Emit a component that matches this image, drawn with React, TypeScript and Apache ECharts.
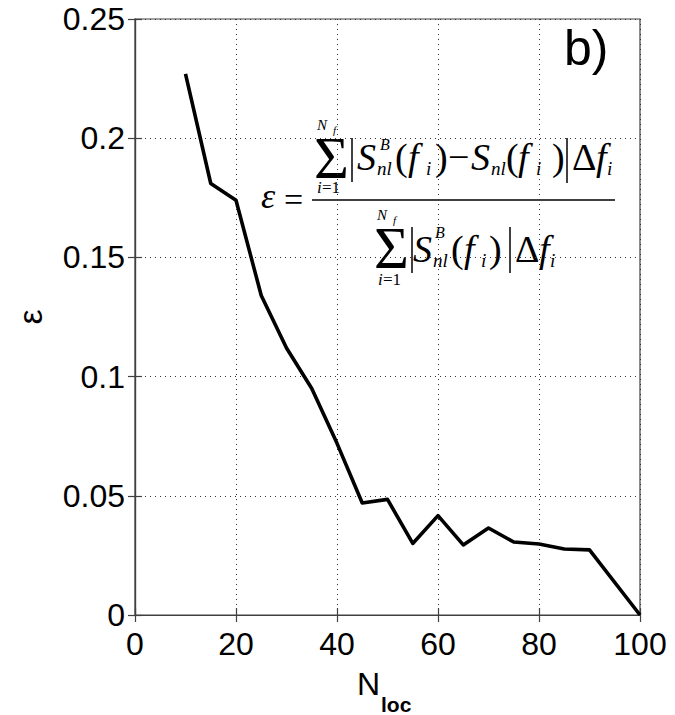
import React, { useEffect, useRef } from "react";
import * as echarts from "echarts";

// ---- data ----
const nLoc = [10, 15, 20, 25, 30, 35, 40, 45, 50, 55, 60, 65, 70, 75, 80, 85, 90, 100];
const epsValues = [
  0.227, 0.181, 0.174, 0.134, 0.112, 0.095, 0.072, 0.047, 0.0485, 0.030, 0.0417,
  0.0294, 0.0365, 0.0306, 0.0298, 0.0277, 0.0273, 0.0,
];
const xTickLabels = ["0", "20", "40", "60", "80", "100"];
const yTickLabels = ["0", "0.05", "0.1", "0.15", "0.2", "0.25"];

const SERIF = '"Liberation Serif", "Times New Roman", serif';
const SANS = '"Liberation Sans", Arial, Helvetica, sans-serif';

function txt(
  text: string,
  x: number,
  baseline: number,
  size: number,
  italic: boolean,
  lh?: number,
  family = SERIF,
  weight = "normal"
) {
  const off = family === SERIF ? 0.3375 : 0.3465;
  const style: any = {
    text,
    fill: "#000",
    font: `${italic ? "italic " : ""}${weight} ${size}px ${family}`,
    align: "left",
    verticalAlign: "middle",
    textAlign: "left",
    textVerticalAlign: "middle",
  };
  if (lh) style.lineHeight = lh;
  return { type: "text", x, y: baseline - off * size, silent: true, style };
}

function vbar(x: number, y1: number, y2: number, w = 1.5) {
  return { type: "line", silent: true, shape: { x1: x, y1, x2: x, y2 }, style: { stroke: "#000", lineWidth: w } };
}

function formulaGraphics() {
  const M = 38; // main size
  const ML = 26; // main line-height (tight box)
  const S = 19; // subscript size
  const SL = 11;
  const g: any[] = [];
  // epsilon =
  g.push(txt("ε", 261, 208, 36, true, 20));
  g.push(txt("=", 284, 211, 34, false, 14));
  // fraction bar
  g.push({ type: "line", silent: true, shape: { x1: 312, y1: 200, x2: 615, y2: 200 }, style: { stroke: "#000", lineWidth: 1.6 } });

  // ---- numerator (baseline 170) ----
  const nb = 170;
  g.push(txt("N", 317, 130, 15, true, 12));
  g.push(txt("f", 333, 134, 11, true, 9));
  g.push(txt("Σ", 314, 178, 60, false, 40));
  g.push(txt("i", 317, 193, 17, true, 12));
  g.push(txt("=1", 322, 193, 17, false, 12));
  g.push(vbar(352, 138, 182));
  g.push(txt("S", 357, nb, M, true, ML));
  g.push(txt("B", 380, 150, 16, true, SL));
  g.push(txt("nl", 377, nb + 5, S, true, SL));
  g.push(txt("(", 395, nb, M, false, ML));
  g.push(txt("f", 408, nb, M, true, ML));
  g.push(txt("i", 426, nb + 5, S, true, SL));
  g.push(txt(")", 435, nb, M, false, ML));
  g.push(txt("−", 448, nb, M, false, ML));
  g.push(txt("S", 471, nb, M, true, ML));
  g.push(txt("nl", 491, nb + 5, S, true, SL));
  g.push(txt("(", 506, nb, M, false, ML));
  g.push(txt("f", 518, nb, M, true, ML));
  g.push(txt("i", 536, nb + 5, S, true, SL));
  g.push(txt(")", 552, nb, M, false, ML));
  g.push(vbar(567, 138, 183));
  g.push(txt("Δ", 572, nb, M, false, ML));
  g.push(txt("f", 596, nb, M, true, ML));
  g.push(txt("i", 607, nb + 5, S, true, SL));

  // ---- denominator (baseline 262) ----
  const db = 262;
  g.push(txt("N", 377, 220, 15, true, 12));
  g.push(txt("f", 393, 224, 11, true, 9));
  g.push(txt("Σ", 374, 268, 60, false, 40));
  g.push(txt("i", 378, 285, 17, true, 12));
  g.push(txt("=1", 383, 285, 17, false, 12));
  g.push(vbar(412, 227, 273));
  g.push(txt("S", 413, db, M, true, ML));
  g.push(txt("B", 435, 238, 16, true, SL));
  g.push(txt("nl", 433, db + 5, S, true, SL));
  g.push(txt("(", 451, db, M, false, ML));
  g.push(txt("f", 464, db, M, true, ML));
  g.push(txt("i", 481, db + 5, S, true, SL));
  g.push(txt(")", 489, db, M, false, ML));
  g.push(vbar(510, 227, 273));
  g.push(txt("Δ", 515, db, M, false, ML));
  g.push(txt("f", 539, db, M, true, ML));
  g.push(txt("i", 550, db + 5, S, true, SL));
  return g;
}

export default function App() {
  const ref = useRef<HTMLDivElement>(null);
  useEffect(() => {
    document.body.style.margin = "0";
    if (!ref.current) return;
    const chart = echarts.init(ref.current, null, { renderer: "svg" });
    const axisColor = "#404040";
    const tickFont = { fontSize: 32, color: "#000", fontFamily: SANS };
    const split = { show: true, lineStyle: { color: "#333", type: [1, 4] as any, width: 1 } };
    chart.setOption({
      animation: false,
      backgroundColor: "#fff",
      grid: { left: 135, top: 19, right: 35, bottom: 100, show: true, borderColor: axisColor, borderWidth: 1.2, containLabel: false },
      xAxis: [
        {
          type: "value",
          min: 0,
          max: 100,
          interval: 20,
          position: "bottom",
          axisLine: { show: true, lineStyle: { color: axisColor, width: 1.2 } },
          axisTick: { show: true, inside: true, length: 7, lineStyle: { color: axisColor, width: 1.2 } },
          axisLabel: { ...tickFont, margin: 13, formatter: (v: number) => xTickLabels[Math.round(v / 20)] ?? String(v) },
          splitLine: split,
        },
        {
          type: "value",
          min: 0,
          max: 100,
          interval: 20,
          position: "top",
          axisLine: { show: true, lineStyle: { color: axisColor, width: 1.2 } },
          axisTick: { show: true, inside: true, length: 7, lineStyle: { color: axisColor, width: 1.2 } },
          axisLabel: { show: false },
          splitLine: { show: false },
        },
      ],
      yAxis: [
        {
          type: "value",
          min: 0,
          max: 0.25,
          interval: 0.05,
          position: "left",
          name: "ε",
          nameLocation: "middle",
          nameRotate: 90,
          nameGap: 88,
          nameTextStyle: { fontSize: 34, color: "#000", fontFamily: SANS },
          axisLine: { show: true, lineStyle: { color: axisColor, width: 1.2 } },
          axisTick: { show: true, inside: true, length: 7, lineStyle: { color: axisColor, width: 1.2 } },
          axisLabel: { ...tickFont, margin: 10, formatter: (v: number) => yTickLabels[Math.round(v / 0.05)] ?? String(v) },
          splitLine: split,
        },
        {
          type: "value",
          min: 0,
          max: 0.25,
          interval: 0.05,
          position: "right",
          axisLine: { show: true, lineStyle: { color: axisColor, width: 1.2 } },
          axisTick: { show: true, inside: true, length: 7, lineStyle: { color: axisColor, width: 1.2 } },
          axisLabel: { show: false },
          splitLine: { show: false },
        },
      ],
      series: [
        {
          type: "line",
          xAxisIndex: 0,
          yAxisIndex: 0,
          data: nLoc.map((x, i) => [x, epsValues[i]]),
          showSymbol: false,
          symbol: "none",
          lineStyle: { color: "#000", width: 3.6, join: "round" as any },
          z: 5,
        },
      ],
      graphic: [
        txt("N", 357, 695, 32, false, 24, SANS),
        txt("loc", 381, 712, 21, false, 16, SANS, "bold"),
        txt("b)", 564, 65, 50, false, 40, SANS),
        ...formulaGraphics(),
      ],
    });
    return () => chart.dispose();
  }, []);
  return <div ref={ref} style={{ width: 675, height: 715 }} />;
}
